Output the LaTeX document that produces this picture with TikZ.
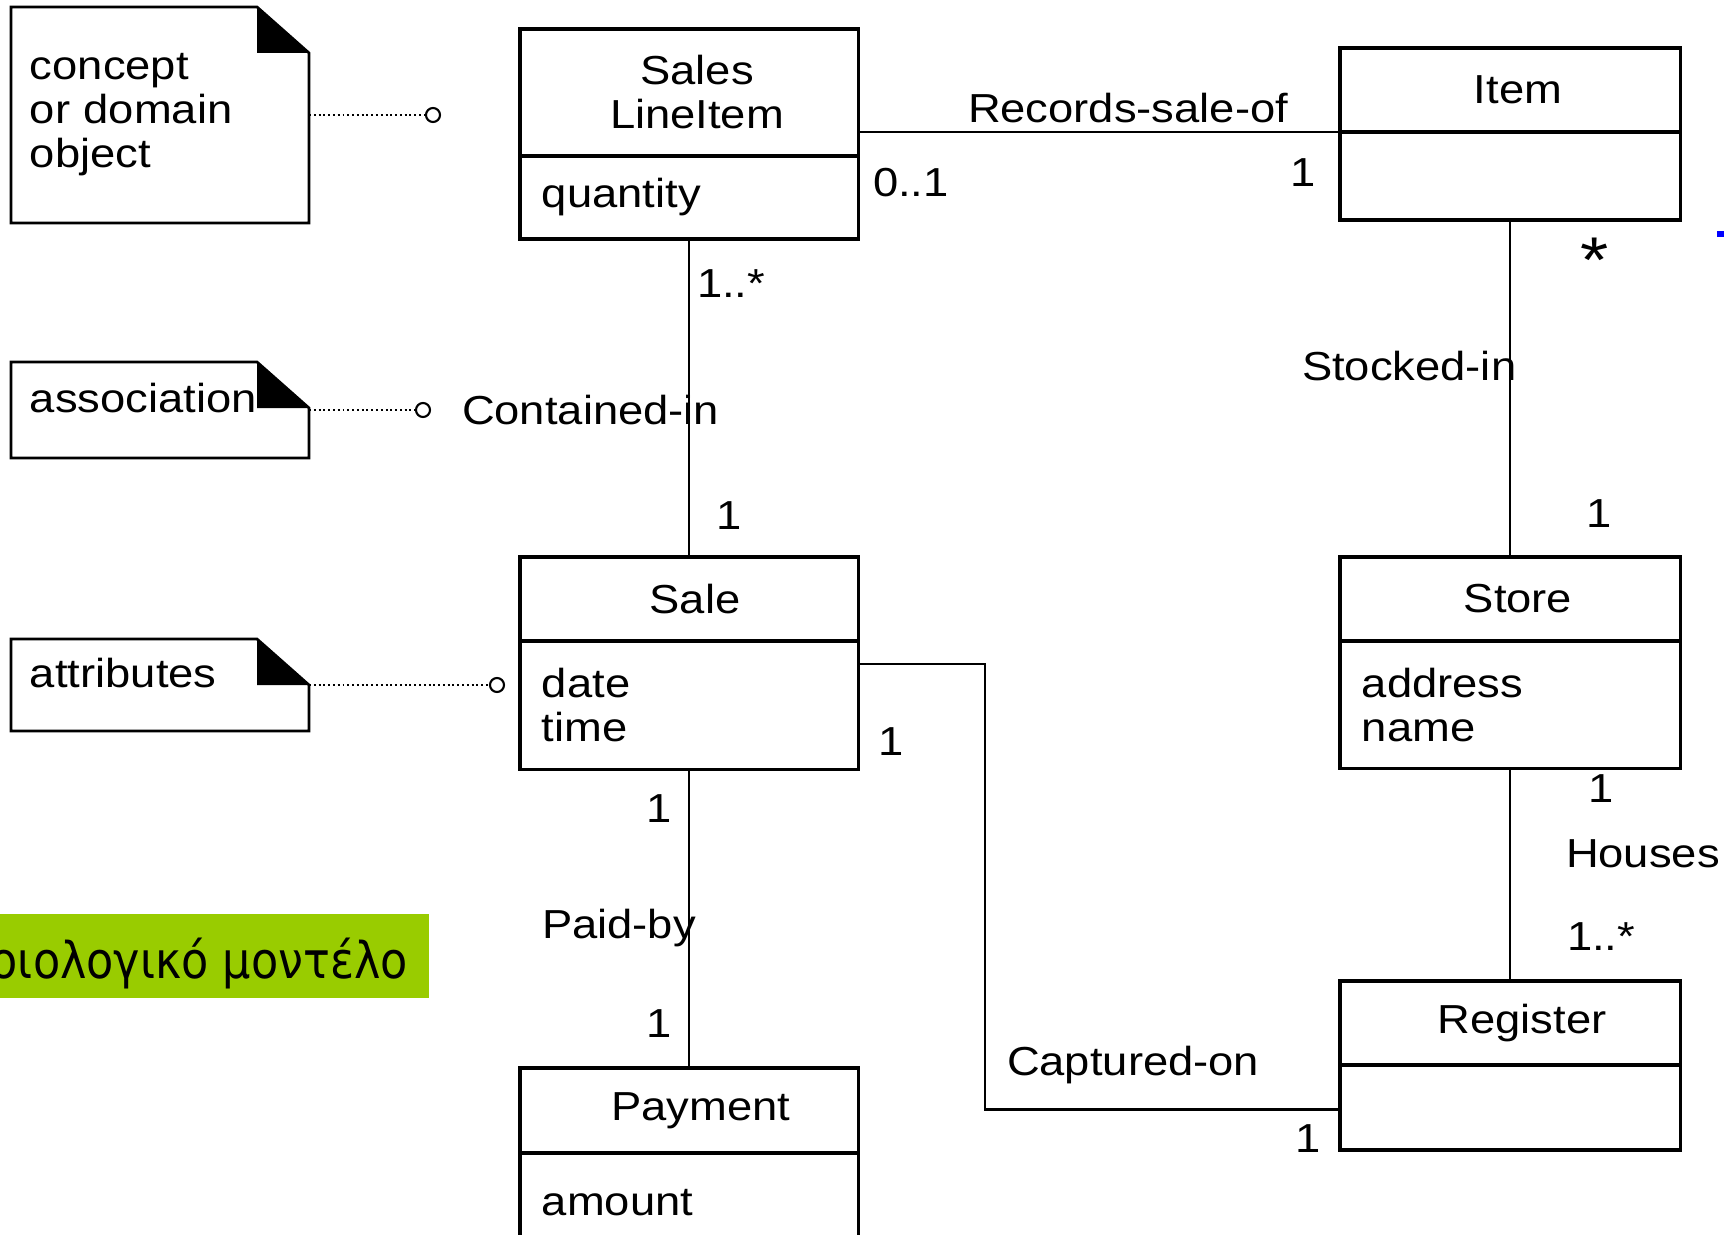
\documentclass[tikz,border=0pt]{standalone}
\usepackage{fontspec}
\setmainfont{Liberation Sans}[FakeStretch=1.12]
\newfontfamily\greekfont{DejaVu Sans}[FakeStretch=0.88]
\usetikzlibrary{positioning}
\definecolor{leaf}{HTML}{99CC00}

\tikzset{
  uml/.style={
    every node/.style={outer sep=0pt},
    class/.style={draw,line width=2.2pt,minimum width=8.45cm,inner sep=0pt,align=center},
    attrs/.style={draw,line width=2.2pt,minimum width=8.45cm,text width=7.35cm,
        inner xsep=0.55cm,inner ysep=0pt,align=left},
    mult/.style={anchor=base west,inner sep=0pt},
  }
}
\newcommand{\notefold}[1]{
    \draw[line width=1.9pt] (#1.north west) -- ([xshift=-1.3cm]#1.north east)
        -- ([yshift=-1.15cm]#1.north east) -- (#1.south east) -- (#1.south west) -- cycle;
    \fill ([xshift=-1.3cm]#1.north east) -- ([yshift=-1.15cm]#1.north east)
        -- ([xshift=-1.3cm,yshift=-1.15cm]#1.north east) -- cycle;
}

\begin{document}
\begin{tikzpicture}[x=0.025cm, y=-0.025cm, uml, font=\fontsize{28.8}{31.3}\selectfont]
        \tikzstyle{knob}=[circle,draw,fill=white,line width=1.5pt,minimum size=0.35cm,inner sep=0pt]
        \tikzstyle{link}=[line width=1.5pt]
        \tikzstyle{hint}=[dotted,line width=1.4pt]
        \tikzstyle{note}=[minimum width=7.45cm,text width=6.5cm,inner xsep=0.475cm,inner ysep=0pt,align=left]

        \useasboundingbox (0,0) rectangle (1724,1235);

        % classes
        \node[class,minimum height=3.175cm] (SLI_h) at (689,92.5) {\hspace*{0.4cm}Sales\\\hspace*{0.4cm}LineItem};
        \node[attrs,minimum height=2.075cm,below=0pt of SLI_h] (SLI_a) {quantity};
        \node[class,minimum height=2.1cm,minimum width=8.5cm] (Item_h) at (1510,90) {\hspace*{0.4cm}Item};
        \node[attrs,minimum height=2.2cm,minimum width=8.5cm,text width=7.4cm,below=0pt of Item_h] (Item_a) {};
        \node[class,minimum height=2.1cm] (Sale_h) at (689,599) {\hspace*{0.3cm}Sale};
        \node[attrs,minimum height=3.2cm,below=0pt of Sale_h] (Sale_a) {date\\time};
        \node[class,minimum height=2.1cm,minimum width=8.5cm] (Store_h) at (1510,599) {\hspace*{0.4cm}Store};
        \node[attrs,minimum height=3.175cm,minimum width=8.5cm,text width=7.4cm,below=0pt of Store_h] (Store_a) {address\\name};
        \node[class,minimum height=2.1cm,minimum width=8.5cm] (Reg_h) at (1510,1023) {\hspace*{0.6cm}Register};
        \node[attrs,minimum height=2.125cm,minimum width=8.5cm,text width=7.4cm,below=0pt of Reg_h] (Reg_a) {};
        \node[class,minimum height=2.125cm] (Pay_h) at (689,1110.5) {\hspace*{0.6cm}Payment};
        \node[attrs,minimum height=2.5cm,below=0pt of Pay_h] (Pay_a) {amount};

        % associations
        \draw[link] (Item_h.south west) -- (Item_h.south west -| SLI_h.east);
        \draw[link] (SLI_a) -- (Sale_h);
        \draw[link] (Item_a) -- (Store_h);
        \draw[link] (Store_a) -- (Reg_h);
        \draw[link] (Sale_a) -- (Pay_h);
        \draw[link] ([yshift=-0.575cm]Sale_a.north east) -- ++(127,0) |- ([yshift=-0.05cm]Reg_a.west);

        \node[mult] (rso) at (968,123) {Records-sale-of};
        \node[mult] (m_1) at (873,197) {0..1};
        \node[mult] (m_2) at (1290,187) {1};
        \node[mult] (m_3) at (697,297) {1..*};
        \node[mult] (cin) at (462,424) {Contained-in};
        \node[mult] (m_4) at (716,529) {1};
        \node[mult,font=\fontsize{46}{50}\selectfont] (m_5) at (1580,282) {*};
        \node[mult] (sin) at (1302,380) {Stocked-in};
        \node[mult] (m_6) at (1586,527) {1};
        \node[mult] (m_7) at (878,755) {1};
        \node[mult] (m_8) at (646,822) {1};
        \node[mult] (pby) at (542,938) {Paid-by};
        \node[mult] (m_9) at (646,1037) {1};
        \node[mult] (cap) at (1007,1075) {Captured-on};
        \node[mult] (m_10) at (1295,1152) {1};
        \node[mult] (m_11) at (1588,802) {1};
        \node[mult] (hou) at (1566,867) {Houses};
        \node[mult] (m_12) at (1567,950) {1..*};

        % notes
        \node[note,minimum height=5.4cm] (concept) at (160,115) {concept\\or domain\\object};
        \notefold{concept}
        \node[knob] (k_1) at (433,115) {};
        \draw[hint] (concept) -- (k_1);

        \node[note,minimum height=2.4cm,text depth=0.6cm] (assoc) at (160,410) {association};
        \notefold{assoc}
        \node[knob] (k_2) at (423,410) {};
        \draw[hint] (assoc) -- (k_2);

        \node[note,minimum height=2.3cm,text depth=0.6cm] (attrib) at (160,685) {attributes};
        \notefold{attrib}
        \node[knob] (k_3) at (497,685) {};
        \draw[hint] (attrib) -- (k_3);

        \node[fill=leaf,anchor=east,text height=1.6cm,text depth=0.5cm,inner ysep=0pt,inner xsep=0.525cm,
            font=\greekfont\fontsize{36}{40}\selectfont] (model) at (429,956) {Εννοιολογικό μοντέλο};

        \fill[blue] (1717,231) rectangle (1724,237);
\end{tikzpicture}
\end{document}
